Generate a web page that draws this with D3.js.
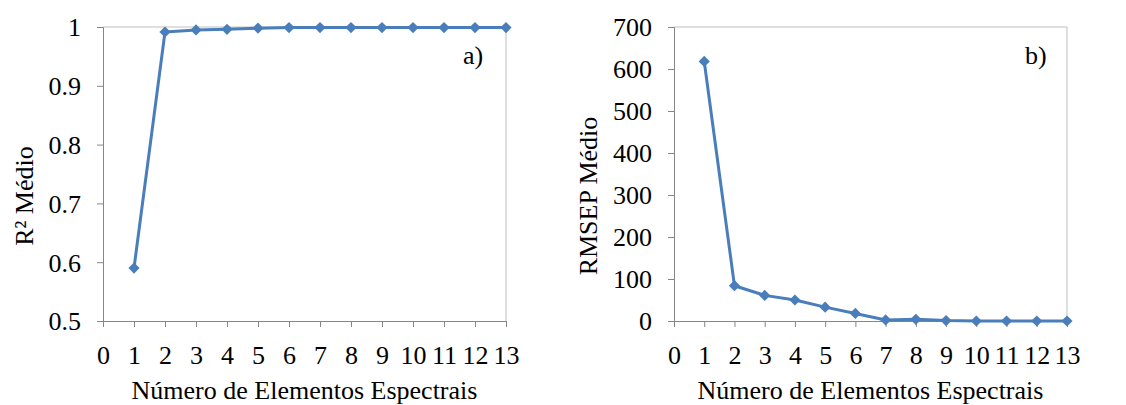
<!DOCTYPE html>
<html>
<head>
<meta charset="utf-8">
<script src="https://cdn.jsdelivr.net/npm/d3@7"></script>
<style>
  body { margin: 0; background: #fff; }
  svg text { font-family: "Liberation Serif", "Times New Roman", serif; fill: #000; }
</style>
</head>
<body>
<svg id="chart" width="1126" height="405"></svg>
<script>
// number of spectral elements
var elementos = [1, 2, 3, 4, 5, 6, 7, 8, 9, 10, 11, 12, 13];
var xTicks = [0, 1, 2, 3, 4, 5, 6, 7, 8, 9, 10, 11, 12, 13];

// panel a) mean R2
var r2Medio = [0.590, 0.9915, 0.995, 0.996, 0.998, 0.999, 0.999, 0.999, 0.999, 0.999, 0.999, 0.999, 0.999];
var r2Ticks = [0.5, 0.6, 0.7, 0.8, 0.9, 1];

// panel b) mean RMSEP
var rmsepMedio = [618, 84, 61, 50, 33, 18, 2.5, 4, 1, 0, 0, 0, 0];
var rmsepTicks = [0, 100, 200, 300, 400, 500, 600, 700];

var xTitle = "Número de Elementos Espectrais";
var blue = "#4a7ebb";
var serif = "'Liberation Serif', 'Times New Roman', serif";

var svg = d3.select("#chart");

/**
*   draws one panel
*/
function panel(opt){
  var x = d3.scaleLinear().domain([0, 13]).range([opt.left, opt.right]);
  var y = d3.scaleLinear().domain(opt.yDomain).range([321, 27]);

  var g = svg.append("g");

  // frame (top + right)
  g.append("path")
    .attr("d", "M" + x(0) + "," + y(opt.yDomain[1]) + "H" + x(13) + "V" + y(opt.yDomain[0]))
    .attr("fill", "none")
    .attr("stroke", "#bfbfbf")
    .attr("stroke-width", 1);

  var yAxis = g.append("g")
    .attr("transform", "translate(" + x(0) + ",0)")
    .call(d3.axisLeft(y).tickValues(opt.yTicks).tickSize(6).tickPadding(16).tickFormat(opt.fmt));
  var xAxis = g.append("g")
    .attr("transform", "translate(0," + y(opt.yDomain[0]) + ")")
    .call(d3.axisBottom(x).tickValues(xTicks).tickSize(6).tickPadding(19).tickFormat(d3.format("d")));

  [yAxis, xAxis].forEach(function(a){
    a.attr("font-family", null);
    a.select(".domain").attr("stroke", "#868686");
    a.selectAll(".tick line").attr("stroke", "#868686");
    a.selectAll("text").style("font-size", "26px").style("font-family", serif).attr("fill", "#000");
  });
  yAxis.selectAll("text").attr("dy", "0.34em");

  var line = d3.line()
    .x(function(d, i) { return x(elementos[i]); })
    .y(function(d) { return y(d); });

  g.append("path")
    .datum(opt.values)
    .attr("fill", "none")
    .attr("stroke", blue)
    .attr("stroke-width", 3)
    .attr("stroke-linejoin", "round")
    .attr("d", line);

  g.selectAll(".pt")
    .data(opt.values)
    .enter().append("path")
    .attr("class", "pt")
    .attr("d", d3.symbol().type(d3.symbolDiamond2).size(80))
    .attr("fill", blue)
    .attr("transform", function(d, i) { return "translate(" + x(elementos[i]) + "," + y(d) + ")"; });

  g.append("text")
    .attr("x", (opt.left + opt.right) / 2)
    .attr("y", 399)
    .attr("text-anchor", "middle")
    .style("font-size", "26px")
    .style("font-family", serif)
    .text(xTitle);

  g.append("text")
    .attr("transform", "translate(" + opt.yTitleX + ",196) rotate(-90)")
    .attr("text-anchor", "middle")
    .style("font-size", "26px")
    .style("font-family", serif)
    .text(opt.yTitle);

  g.append("text")
    .attr("x", opt.tagX)
    .attr("y", 64)
    .style("font-size", "26px")
    .style("font-family", serif)
    .text(opt.tag);
}

panel({left: 103, right: 506, yDomain: [0.5, 1], yTicks: r2Ticks, values: r2Medio,
       fmt: function(d){ return d === 1 ? "1" : d3.format(".1f")(d); },
       yTitle: "R² Médio", yTitleX: 33, tag: "a)", tagX: 463});

panel({left: 674, right: 1067, yDomain: [0, 700], yTicks: rmsepTicks, values: rmsepMedio,
       fmt: d3.format("d"),
       yTitle: "RMSEP Médio", yTitleX: 597, tag: "b)", tagX: 1025});
</script>
</body>
</html>
